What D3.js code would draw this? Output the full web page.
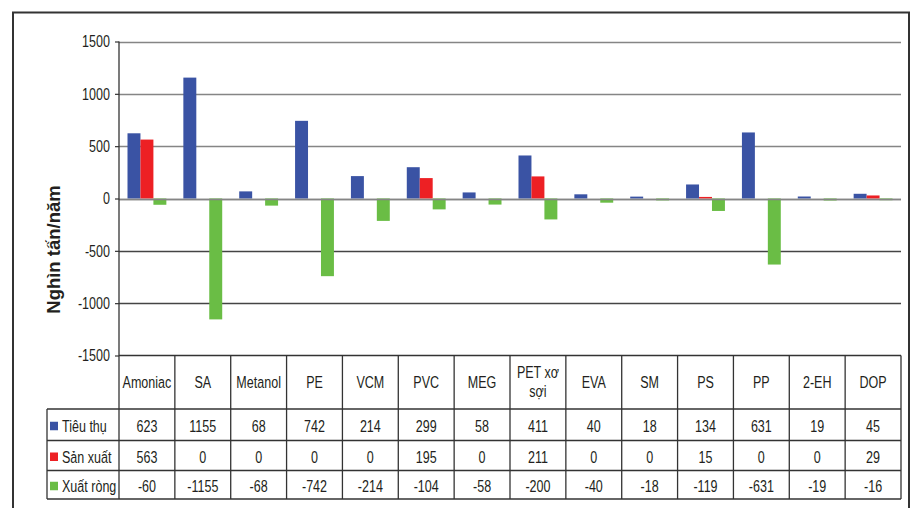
<!DOCTYPE html>
<html>
<head>
<meta charset="utf-8">
<script src="https://cdn.jsdelivr.net/npm/d3@7/dist/d3.min.js"></script>
<style>
  html, body { margin: 0; padding: 0; background: #fff; }
  svg text { font-family: "Liberation Sans", Arial, sans-serif; fill: #231f20; }
</style>
</head>
<body>
<svg id="chart" width="912" height="508"></svg>
<script>
const categories = ["Amoniac","SA","Metanol","PE","VCM","PVC","MEG","PET xơ sợi","EVA","SM","PS","PP","2-EH","DOP"];
const seriesNames = ["Tiêu thụ","Sản xuất","Xuất ròng"];
const tieuThu  = [623,1155,68,742,214,299,58,411,40,18,134,631,19,45];
const sanXuat  = [563,0,0,0,0,195,0,211,0,0,15,0,0,29];
const xuatRong = [-60,-1155,-68,-742,-214,-104,-58,-200,-40,-18,-119,-631,-19,-16];
const yTicks = [-1500,-1000,-500,0,500,1000,1500];
const yTitle = "Nghìn tấn/năm";

const seriesValues = [tieuThu, sanXuat, xuatRong];
const colors = ["#3a53a4", "#ed2024", "#6abd45"];

const svg = d3.select("#chart");
const plotLeft = 119, plotRight = 901, plotTop = 41.5, plotBottom = 355.5;
const tableBottom = 499;
const headerBottom = 409;
const rowBottoms = [440.5, 470.5, 499];
const legendLeft = 47;
const SX = 0.76;   // horizontal condensation to mimic a narrow font
const fs = 16.5;

function ntext(parent, x, y, str, anchor) {
  return parent.append("text")
    .attr("transform", `translate(${x},${y}) scale(${SX},1)`)
    .attr("text-anchor", anchor || "middle")
    .attr("font-size", fs)
    .text(str);
}

// outer frame
svg.append("path")
  .attr("d", `M13,508 L13,12.5 L909,12.5 L909,508`)
  .attr("fill", "none").attr("stroke", "#333").attr("stroke-width", 2);

const y = d3.scaleLinear().domain([-1500, 1500]).range([plotBottom, plotTop]);
const x0 = d3.scaleBand().domain(categories).range([plotLeft, plotRight]).padding(0);
const x1 = d3.scaleBand().domain(seriesNames).range([8.5, x0.bandwidth() - 8.5]).padding(0);

// gridlines
svg.append("g").selectAll("line").data(yTicks.filter(t => t !== -1500)).join("line")
  .attr("x1", plotLeft).attr("x2", plotRight)
  .attr("y1", d => Math.round(y(d)) + 0.5).attr("y2", d => Math.round(y(d)) + 0.5)
  .attr("stroke", d => d < 0 ? "#444" : "#858585").attr("stroke-width", d => d < 0 ? 1.3 : 1.6);

// y axis
const yAxis = d3.axisLeft(y).tickValues(yTicks).tickSize(4).tickPadding(5).tickFormat(d => String(d));
const ag = svg.append("g").attr("transform", `translate(${plotLeft},0)`).call(yAxis);
ag.select(".domain").remove();
ag.selectAll(".tick line").attr("stroke", "#333").attr("stroke-width", 1.2);
ag.selectAll(".tick text").each(function() {
  const t = d3.select(this);
  const xx = +t.attr("x");
  t.attr("x", null).attr("font-size", fs).attr("fill", "#231f20")
   .attr("transform", `translate(${xx},0) scale(${SX},1)`);
});

// bars
const groups = svg.append("g").selectAll("g").data(categories).join("g")
  .attr("transform", d => `translate(${x0(d)},0)`);
groups.selectAll("rect").data((c, i) => seriesNames.map((s, k) => ({s, k, v: seriesValues[k][i]})))
  .join("rect")
  .attr("x", d => x1(d.s))
  .attr("width", x1.bandwidth())
  .attr("y", d => y(Math.max(0, d.v)))
  .attr("height", d => Math.abs(y(d.v) - y(0)))
  .attr("fill", d => colors[d.k]);

// zero line over bars
svg.append("line").attr("x1", plotLeft).attr("x2", plotRight)
  .attr("y1", Math.round(y(0)) + 0.5).attr("y2", Math.round(y(0)) + 0.5)
  .attr("stroke", "#858585").attr("stroke-width", 1.6);

// table lines
const tl = svg.append("g").attr("stroke", "#333").attr("stroke-width", 1.3);
tl.append("line").attr("x1", plotLeft).attr("x2", plotRight).attr("y1", y(-1500)).attr("y2", y(-1500));
const bounds = categories.map(c => x0(c)).concat([plotRight]);
tl.selectAll(".v").data(bounds).join("line")
  .attr("x1", d => d).attr("x2", d => d)
  .attr("y1", (d, i) => i === 0 ? plotTop : y(-1500)).attr("y2", tableBottom);
tl.selectAll(".h").data([headerBottom].concat(rowBottoms)).join("line")
  .attr("x1", legendLeft).attr("x2", plotRight)
  .attr("y1", d => d).attr("y2", d => d);
tl.append("line").attr("x1", legendLeft).attr("x2", legendLeft).attr("y1", headerBottom).attr("y2", tableBottom);

// header labels
const midY = (y(-1500) + headerBottom) / 2;
categories.forEach(c => {
  const cx = x0(c) + x0.bandwidth() / 2;
  const t = ntext(svg, cx, midY + 6, c);
  if (t.node().getComputedTextLength() * SX > x0.bandwidth() - 4) {
    const words = c.split(" ");
    const l2 = words.pop();
    const l1 = words.join(" ");
    t.text(null).attr("transform", `translate(${cx},${midY}) scale(${SX},1)`);
    t.append("tspan").attr("x", 0).attr("y", -4.5).text(l1);
    t.append("tspan").attr("x", 0).attr("y", 14.5).text(l2);
  }
});

// data rows
const rowTops = [headerBottom].concat(rowBottoms.slice(0, 2));
seriesNames.forEach((s, k) => {
  const mid = (rowTops[k] + rowBottoms[k]) / 2;
  const cy = mid + 7.5;
  svg.append("rect").attr("x", 50).attr("y", mid - 3).attr("width", 8).attr("height", 8.5).attr("fill", colors[k]);
  ntext(svg, 62, cy, s, "start");
  categories.forEach((c, i) => {
    ntext(svg, x0(c) + x0.bandwidth() / 2, cy, seriesValues[k][i]);
  });
});

// y title
svg.append("text")
  .attr("transform", `translate(60,${(plotTop + plotBottom) / 2 + 51}) rotate(-90)`)
  .attr("text-anchor", "middle").attr("font-size", 18.5).attr("font-weight", "bold")
  .text(yTitle);
</script>
</body>
</html>
